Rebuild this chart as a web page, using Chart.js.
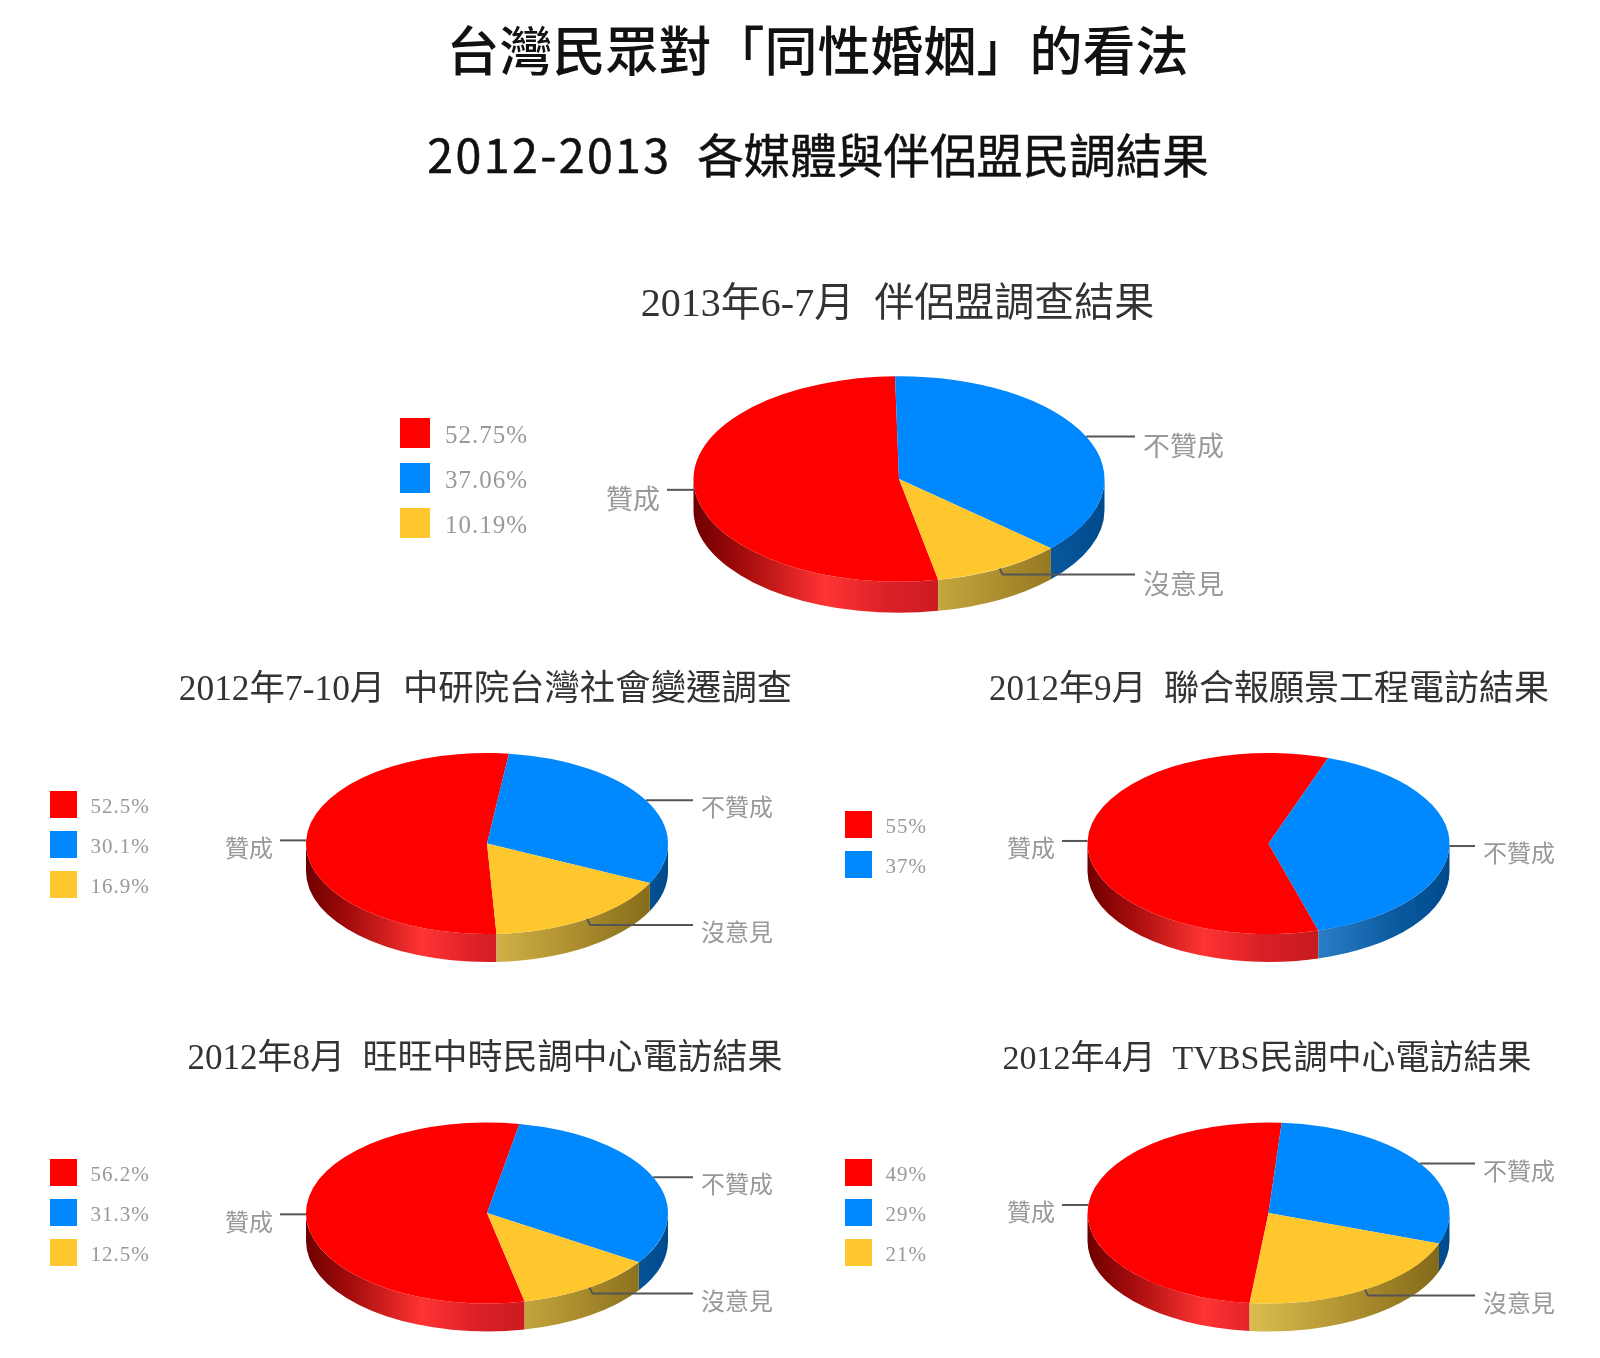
<!DOCTYPE html>
<html lang="zh-Hant">
<head>
<meta charset="utf-8">
<title>台灣民眾對「同性婚姻」的看法</title>
<script src="https://cdn.jsdelivr.net/npm/chart.js@4"></script>
<style>
    html, body { margin: 0; padding: 0; background: #fff; }
    body { position: relative; width: 1600px; height: 1358px; overflow: hidden; }
    h1, h2 {
        position: absolute; left: 0; margin: 0; text-align: center; color: #111;
        font-family: "Noto Sans CJK TC", sans-serif; white-space: pre; line-height: 1;
        filter: blur(0.4px);
    }
    h1 { top: 22px; width: 1635px; font-size: 53px; font-weight: 500; }
    h2 { top: 130px; width: 1636px; font-size: 46.5px; font-weight: 400; -webkit-text-stroke: 0.5px #111; }
    h2 span { letter-spacing: 2.4px; }
    canvas { position: absolute; filter: blur(0.6px); }
</style>
</head>
<body>
<h1>台灣民眾對「同性婚姻」的看法</h1>
<h2><span>2012-2013  </span>各媒體與伴侶盟民調結果</h2>
<canvas id="c1"></canvas>
<canvas id="c2"></canvas>
<canvas id="c3"></canvas>
<canvas id="c4"></canvas>
<canvas id="c5"></canvas>
<script>
// =============================================
// DATA
// =============================================
const categories = ['贊成', '不贊成', '沒意見'];
const values2013Partner = [52.75, 37.06, 10.19];
const values2012Sinica  = [52.5, 30.1, 16.9];
const values2012Udn     = [55, 37];
const values2012Want    = [56.2, 31.3, 12.5];
const values2012Tvbs    = [49, 29, 21];
const sliceColors = ['#ff0000', '#0088ff', '#ffc72e'];

const fontStack = '"Liberation Serif", "Noto Sans CJK TC", serif';

// one entry per pie: where the canvas sits and how the pie + its texts are laid out (page px)
const panels = [
    { id: 'c1', box: [380, 270, 880, 370], title: '2013年6-7月  伴侶盟調查結果', titleX: 897.5, titleY: 305, titleSize: 40,
      values: values2013Partner, rotation: 169, cx: 899, cy: 479, r: 205.5, depth: 31,
      legendX: 400, legendY: 418, swatch: 30, legendStep: 45, legendSize: 25, labelSize: 27, labelDrop: 12, lineLeft: 667, lineRight: 1135 },
    { id: 'c2', box: [0, 660, 840, 340], title: '2012年7-10月  中研院台灣社會變遷調查', titleX: 485.5, titleY: 691, titleSize: 35.4,
      values: values2012Sinica, rotation: 177, cx: 487, cy: 843.5, r: 181, depth: 28,
      legendX: 50, legendY: 791, swatch: 27, legendStep: 40, legendSize: 21, labelSize: 24, labelDrop: 10, lineLeft: 280, lineRight: 693 },
    { id: 'c3', box: [840, 660, 760, 340], title: '2012年9月  聯合報願景工程電訪結果', titleX: 1269, titleY: 691, titleSize: 35,
      values: values2012Udn, rotation: 164, cx: 1268.5, cy: 843.5, r: 181, depth: 28,
      legendX: 845, legendY: 811, swatch: 27, legendStep: 40, legendSize: 21, labelSize: 24, labelDrop: 10, lineLeft: 1062, lineRight: 1475 },
    { id: 'c4', box: [0, 1020, 840, 338], title: '2012年8月  旺旺中時民調中心電訪結果', titleX: 485, titleY: 1060, titleSize: 35,
      values: values2012Want, rotation: 168, cx: 487, cy: 1213, r: 181, depth: 28,
      legendX: 50, legendY: 1159, swatch: 27, legendStep: 40, legendSize: 21, labelSize: 24, labelDrop: 10, lineLeft: 280, lineRight: 693 },
    { id: 'c5', box: [840, 1020, 760, 338], title: '2012年4月  TVBS民調中心電訪結果', titleX: 1267, titleY: 1060, titleSize: 34,
      values: values2012Tvbs, rotation: 186, cx: 1268.5, cy: 1213, r: 181, depth: 28,
      legendX: 845, legendY: 1159, swatch: 27, legendStep: 40, legendSize: 21, labelSize: 24, labelDrop: 10, lineLeft: 1062, lineRight: 1475 },
];

const TILT = 0.5;   // ellipse height / width

// side wall shading, stops run across the pie's width
const wallStops = [
    [[0, '#6e0000'], [0.12, '#a30b0b'], [0.32, '#ff3333'], [0.48, '#d92026'], [1, '#a01010']],
    [[0, '#0a5aa0'], [0.65, '#2a7cc2'], [0.85, '#0a5aa0'], [1, '#004a8c']],
    [[0, '#f0d468'], [0.45, '#dabd4e'], [0.75, '#ab8d2e'], [1, '#7e6416']],
];

// =============================================
// 3D PIE PLUGIN
// =============================================
const pie3d = {
    id: 'pie3d',

    beforeDatasetDraw(chart, args) {
        const ctx = chart.ctx;
        const arcs = args.meta.data;
        const { depth } = chart.options.plugins.pie3d;
        const { x, y, outerRadius: rx } = arcs[0];
        const ry = rx * TILT;

        // walls: only the part of each slice that faces the viewer (canvas angles 0..PI)
        arcs.forEach((arc, i) => {
            const spans = [[arc.startAngle, arc.endAngle], [arc.startAngle - Math.PI * 2, arc.endAngle - Math.PI * 2]];
            spans.forEach(([s, e]) => {
                const a = Math.max(s, 0), b = Math.min(e, Math.PI);
                if (b <= a) return;
                const grad = ctx.createLinearGradient(x - rx, 0, x + rx, 0);
                wallStops[i].forEach(st => grad.addColorStop(st[0], st[1]));
                ctx.save();
                ctx.beginPath();
                ctx.ellipse(x, y, rx, ry, 0, a, b);
                ctx.ellipse(x, y + depth, rx, ry, 0, b, a, true);
                ctx.closePath();
                ctx.fillStyle = grad;
                ctx.fill();
                ctx.restore();
            });
        });

        // squash the library's arcs into an ellipse
        ctx.save();
        ctx.translate(x, y);
        ctx.scale(1, TILT);
        ctx.translate(-x, -y);
    },

    afterDatasetDraw(chart) {
        chart.ctx.restore();
    },

    afterDatasetsDraw(chart) {
        const ctx = chart.ctx;
        const o = chart.options.plugins.pie3d;
        const arcs = chart.getDatasetMeta(0).data;
        const values = chart.data.datasets[0].data;

        // subtitle
        ctx.save();
        ctx.fillStyle = '#333';
        ctx.font = `${o.titleSize}px ${fontStack}`;
        ctx.textAlign = 'center';
        ctx.textBaseline = 'middle';
        ctx.fillText(o.title, o.titleX - o.left, o.titleY - o.top);

        // legend
        ctx.textAlign = 'left';
        ctx.letterSpacing = '1px';
        ctx.font = `${o.legendSize}px ${fontStack}`;
        values.forEach((v, i) => {
            const sy = o.legendY - o.top + i * o.legendStep;
            ctx.fillStyle = sliceColors[i];
            ctx.fillRect(o.legendX - o.left, sy, o.swatch, o.swatch);
            ctx.fillStyle = '#999';
            ctx.fillText(v + '%', o.legendX - o.left + o.swatch * 1.5, sy + o.swatch / 2 + 3);
        });
        ctx.letterSpacing = '0px';

        // leader lines + category labels, starting at each slice's mid angle
        ctx.font = `${o.labelSize}px ${fontStack}`;
        ctx.lineWidth = 2;
        ctx.strokeStyle = '#555';
        arcs.forEach((arc, i) => {
            const mid = (arc.startAngle + arc.endAngle) / 2;
            const px = arc.x + arc.outerRadius * Math.cos(mid);
            const py = arc.y + arc.outerRadius * TILT * Math.sin(mid);
            const toLeft = Math.cos(mid) < 0;
            const endX = (toLeft ? o.lineLeft : o.lineRight) - o.left;
            const frontFacing = Math.sin(mid) > 0.5;
            const lineY = frontFacing ? py + 6 : py;

            ctx.beginPath();
            ctx.moveTo(px, py);
            ctx.lineTo(frontFacing ? px + 3 : px, lineY);
            ctx.lineTo(endX, lineY);
            ctx.stroke();

            ctx.fillStyle = '#999';
            ctx.textAlign = toLeft ? 'right' : 'left';
            ctx.fillText(categories[i], endX + (toLeft ? -7 : 8), lineY + o.labelDrop);
        });
        ctx.restore();
    }
};

// =============================================
// BUILD CHARTS
// =============================================
panels.forEach(p => {
    const [left, top, w, h] = p.box;
    const canvas = document.getElementById(p.id);
    canvas.style.left = left + 'px';
    canvas.style.top = top + 'px';
    canvas.width = w;
    canvas.height = h;

    // pad the chart area so that its centre is the pie's centre
    const lx = p.cx - left, ly = p.cy - top;

    new Chart(canvas, {
        type: 'pie',
        data: {
            labels: categories.slice(0, p.values.length),
            datasets: [{
                data: p.values,
                backgroundColor: sliceColors.slice(0, p.values.length),
                borderWidth: 0,
                rotation: p.rotation,
                radius: p.r,
                clip: false,
            }]
        },
        options: {
            responsive: false,
            animation: false,
            layout: {
                padding: {
                    left: Math.max(0, 2 * lx - w),
                    right: Math.max(0, w - 2 * lx),
                    top: Math.max(0, 2 * ly - h),
                    bottom: Math.max(0, h - 2 * ly),
                }
            },
            plugins: {
                legend: { display: false },
                tooltip: { enabled: false },
                pie3d: { ...p, left, top },
            }
        },
        plugins: [pie3d]
    });
});
</script>
</body>
</html>
